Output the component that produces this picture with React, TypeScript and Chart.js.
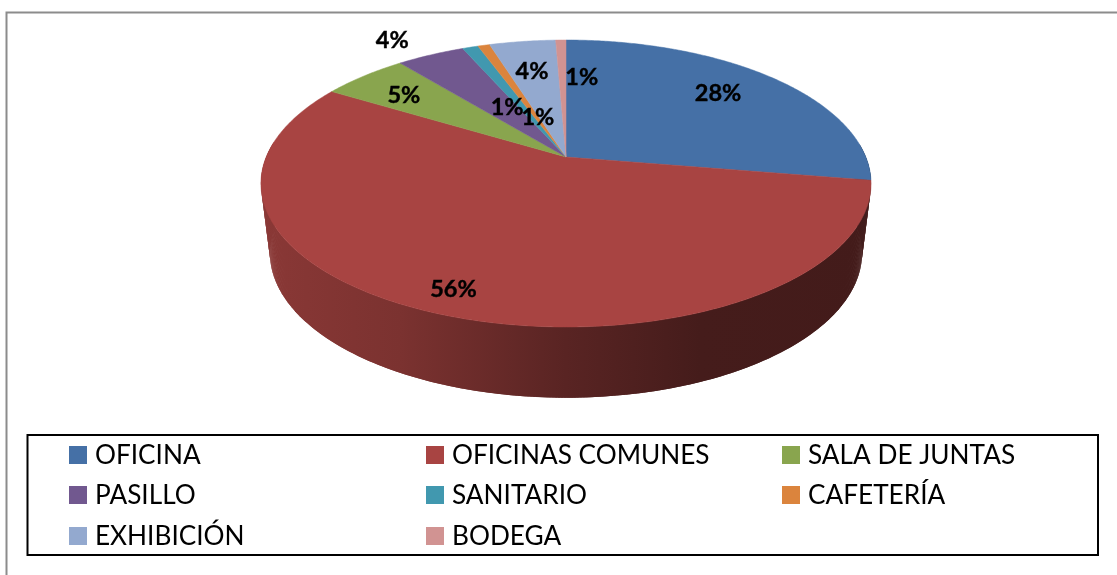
import React, { useEffect, useRef } from "react";
import { Chart, registerables } from "chart.js";

Chart.register(...registerables);

const categories = ["OFICINA", "OFICINAS COMUNES", "SALA DE JUNTAS", "PASILLO", "SANITARIO", "CAFETERÍA", "EXHIBICIÓN", "BODEGA"];
const seriesValues = [27.6, 56.05, 5.45, 4.3, 1.0, 0.75, 4.2, 0.65];
const sliceColors = ["#4570a6", "#a84442", "#89a54e", "#71588f", "#4198af", "#db843d", "#93a9cf", "#d19392"];
// Label placement on the tilted disc: radius fraction and angular nudge (degrees) from each slice's mid-angle.
const labelRadius = [0.756, 0.866, 0.771, 1.22, 0.448, 0.326, 0.718, 0.658];
const labelNudge = [-2.4, 1.4, -0.9, -2.8, -6.1, 1.1, -0.4, 6.3];

const FONT = "Lato, 'Noto Sans', sans-serif";
const K = 0.1847;
const TOP = { x: 566, y: 157, a: 299.8, b: 138.6 };
const BASE = { x: 566, y: 226, a: 291, b: 140 };
const STEP = Math.PI / 360;
const WALL_STOPS: [number, number][] = [[261, 0.82], [400, 0.73], [566, 0.53], [700, 0.41], [871, 0.4]];

const project = (g: typeof TOP, t: number, r = 1) => {
  const X = r * Math.cos(t);
  const Y = r * Math.sin(t);
  const d = 1 - K * Y;
  return { x: g.x + (g.a * X) / d, y: g.y + (g.b * Y) / d };
};

const rgb = (hex: string) => [1, 3, 5].map((i) => parseInt(hex.slice(i, i + 2), 16));

const pie3d = {
  id: "pie3d",
  beforeDatasetsDraw(chart: any) {
    const { ctx } = chart;
    const arcs = chart.getDatasetMeta(0).data;
    const x0 = WALL_STOPS[0][0];
    const x1 = WALL_STOPS[WALL_STOPS.length - 1][0];
    // side wall: overlapping quads, back to front, each filled with its slice's horizontal shading
    const strips: { t0: number; t1: number; grad: CanvasGradient }[] = [];
    arcs.forEach((arc: any) => {
      const grad = ctx.createLinearGradient(x0, 0, x1, 0);
      const [r, g, b] = rgb(arc.options.backgroundColor);
      WALL_STOPS.forEach(([x, f]) => {
        grad.addColorStop((x - x0) / (x1 - x0), `rgb(${r * f},${g * f},${b * f})`);
      });
      for (let t = arc.startAngle; t < arc.endAngle; t += STEP) {
        if (Math.sin(t) > -0.1) strips.push({ t0: t, t1: Math.min(t + 2 * STEP, arc.endAngle), grad });
      }
    });
    strips
      .sort((a, b) => Math.sin(a.t0) + Math.sin(a.t1) - Math.sin(b.t0) - Math.sin(b.t1))
      .forEach((s) => {
        const a = project(TOP, s.t0);
        const b = project(TOP, s.t1);
        const c = project(BASE, s.t1);
        const d = project(BASE, s.t0);
        ctx.fillStyle = s.grad;
        ctx.beginPath();
        ctx.moveTo(a.x, a.y);
        ctx.lineTo(b.x, b.y);
        ctx.lineTo(c.x, c.y);
        ctx.lineTo(d.x, d.y);
        ctx.closePath();
        ctx.fill();
      });
    // top face
    arcs.forEach((arc: any) => {
      const color = arc.options.backgroundColor;
      ctx.fillStyle = color;
      ctx.strokeStyle = color;
      ctx.lineWidth = 0.5;
      ctx.beginPath();
      ctx.moveTo(TOP.x, TOP.y);
      for (let t = arc.startAngle; t < arc.endAngle; t += STEP) {
        const p = project(TOP, t);
        ctx.lineTo(p.x, p.y);
      }
      const e = project(TOP, arc.endAngle);
      ctx.lineTo(e.x, e.y);
      ctx.closePath();
      ctx.fill();
      ctx.stroke();
    });
    return false;
  },
  afterDraw(chart: any) {
    const { ctx } = chart;
    const meta = chart.getDatasetMeta(0);
    const labels: string[] = chart.data.labels;
    // outer frame
    ctx.strokeStyle = "#8c8c8c";
    ctx.lineWidth = 2;
    ctx.beginPath();
    ctx.moveTo(6.5, 575);
    ctx.lineTo(6.5, 12.5);
    ctx.lineTo(1117, 12.5);
    ctx.stroke();
    // percentage labels
    ctx.fillStyle = "#000";
    ctx.strokeStyle = "#000";
    ctx.lineWidth = 0.4;
    ctx.font = `bold 23.5px ${FONT}`;
    ctx.textAlign = "center";
    ctx.textBaseline = "middle";
    const vals: number[] = chart.data.datasets[0].data;
    const total = vals.reduce((s, v) => s + v, 0);
    meta.data.forEach((arc: any, i: number) => {
      const mid = (arc.startAngle + arc.endAngle) / 2 + (labelNudge[i] * Math.PI) / 180;
      const p = project(TOP, mid, labelRadius[i]);
      const text = `${Math.round((vals[i] / total) * 100)}%`;
      ctx.fillText(text, p.x, p.y + 1);
      ctx.strokeText(text, p.x, p.y + 1);
    });
    // legend
    ctx.strokeStyle = "#000";
    ctx.lineWidth = 2;
    ctx.strokeRect(27.5, 435, 1070.5, 120);
    ctx.font = `26.2px ${FONT}`;
    ctx.textAlign = "left";
    const colX = [69, 426, 782];
    const rowY = [455, 495, 536];
    labels.forEach((lab, i) => {
      const x = colX[i % 3];
      const y = rowY[Math.floor(i / 3)];
      ctx.fillStyle = meta.data[i].options.backgroundColor;
      ctx.fillRect(x, y - 9, 18, 18);
      ctx.fillStyle = "#000";
      ctx.fillText(lab, x + 26, y + 1);
    });
  },
};

export default function App() {
  const ref = useRef<HTMLCanvasElement>(null);
  useEffect(() => {
    const chart = new Chart(ref.current as HTMLCanvasElement, {
      type: "pie",
      data: {
        labels: categories,
        datasets: [{ data: seriesValues, backgroundColor: sliceColors, borderWidth: 0 }],
      },
      options: {
        animation: false,
        responsive: false,
        plugins: { legend: { display: false }, tooltip: { enabled: false } },
      },
      plugins: [pie3d],
    });
    return () => chart.destroy();
  }, []);
  return (
    <div style={{ position: "absolute", left: 0, top: 0, width: 1117, height: 575, background: "#fff" }}>
      <canvas ref={ref} width={1117} height={575} style={{ display: "block" }} />
    </div>
  );
}
